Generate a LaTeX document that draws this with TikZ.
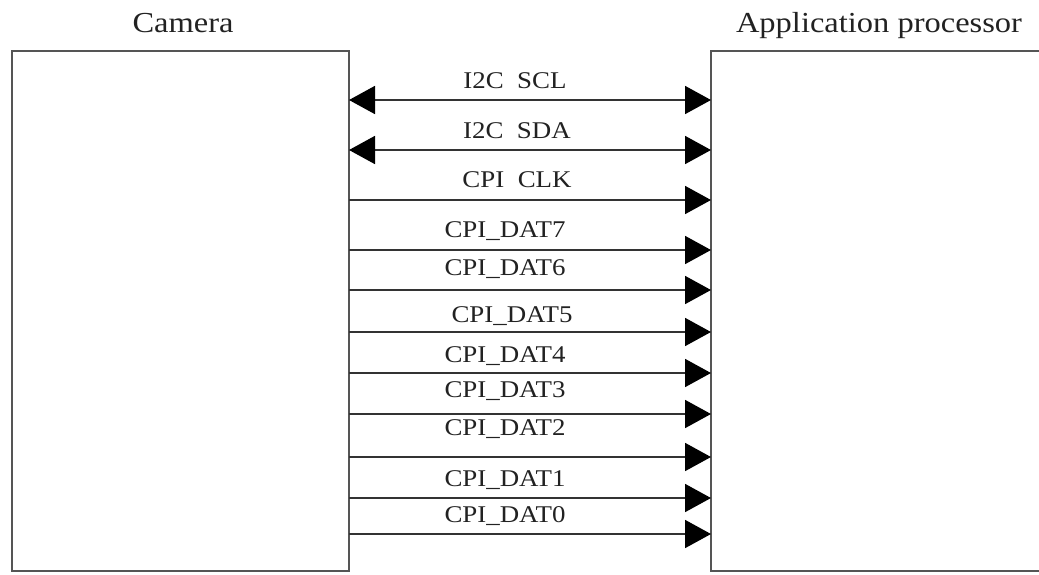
\documentclass[tikz,border=0pt]{standalone}
\usepackage{fontspec}
\setmainfont[FakeStretch=1.12]{Liberation Serif}
\usetikzlibrary{arrows.meta}
\definecolor{boxline}{HTML}{555555}
\definecolor{wire}{HTML}{333333}
\definecolor{ink}{HTML}{222222}
\tikzset{
  block/.style={draw=boxline, line width=2.2pt, fill=none, inner sep=0pt, outer sep=0pt},
  title/.style={text=ink, font=\fontsize{29}{32}\selectfont, anchor=base, inner sep=0pt},
  sig/.style={text=ink, font=\fontsize{24}{28}\selectfont, anchor=base, inner sep=0pt},
  wireline/.style={draw=wire, line width=1.8pt},
  head/.style={Triangle[length=26pt,width=28pt,color=black]},
  tip/.style={-{Triangle[length=26pt,width=28pt,color=black]}},
  bitip/.style={{Triangle[length=26pt,width=28pt,color=black]}-{Triangle[length=26pt,width=28pt,color=black]}},
}
\begin{document}
\begin{tikzpicture}[x=1pt,y=-1pt]
  \useasboundingbox (0,0) rectangle (1039,574);
  \clip (0,0) rectangle (1039,574);
  \fill[white] (0,0) rectangle (1039,574);

  % the two blocks
  \node[block, minimum width=337pt, minimum height=520pt] (cam) at (180.5,311) {};
  \node[block, minimum width=360pt, minimum height=520pt] (ap) at (891,311) {};

  % block titles
  \node[title] (camt) at (183,32) {Camera};
  \node[title] (apt) at (879,32) {Application processor};

  % bidirectional I2C bus
  \draw[wireline, bitip] (cam.east |- 0,100) -- (ap.west |- 0,100);
  \draw[wireline, bitip] (cam.east |- 0,150) -- (ap.west |- 0,150);

  % camera parallel interface, camera to processor
  \foreach \yy in {200,250,290,332,373,414,457,498,534}
    \draw[wireline, tip] (cam.east |- 0,\yy) -- (ap.west |- 0,\yy);

  % signal labels
  \node[sig] (lscl) at (515,88) {I2C\ \ SCL};
  \node[sig] (lsda) at (517,138) {I2C\ \ SDA};
  \node[sig] (lclk) at (517,187) {CPI\ \ CLK};
  \node[sig] (ld7) at (505,237) {CPI\_DAT7};
  \node[sig] (ld6) at (505,275) {CPI\_DAT6};
  \node[sig] (ld5) at (512,322) {CPI\_DAT5};
  \node[sig] (ld4) at (505,362) {CPI\_DAT4};
  \node[sig] (ld3) at (505,397) {CPI\_DAT3};
  \node[sig] (ld2) at (505,435) {CPI\_DAT2};
  \node[sig] (ld1) at (505,486) {CPI\_DAT1};
  \node[sig] (ld0) at (505,522) {CPI\_DAT0};
\end{tikzpicture}
\end{document}
